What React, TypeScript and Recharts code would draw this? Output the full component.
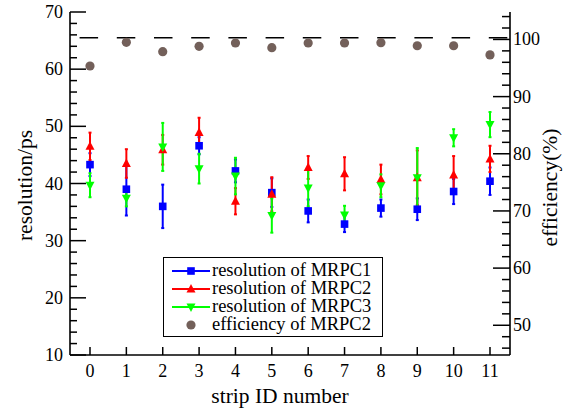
import { ComposedChart, ErrorBar, Legend, ReferenceLine, Scatter, XAxis, YAxis } from "recharts"

const STRIPS = [0, 1, 2, 3, 4, 5, 6, 7, 8, 9, 10, 11]
const RES_MRPC1 = [43.3, 39.0, 36.0, 46.6, 42.2, 38.4, 35.2, 32.9, 35.7, 35.5, 38.6, 40.4]
const ERR_MRPC1 = [2.0, 4.6, 3.8, 1.5, 2.0, 2.5, 2.0, 1.4, 1.5, 1.9, 2.2, 2.4]
const RES_MRPC2 = [46.5, 43.5, 45.9, 48.9, 36.9, 38.1, 42.8, 41.7, 40.7, 41.0, 41.5, 44.3]
const ERR_MRPC2 = [2.4, 2.5, 2.6, 2.6, 2.3, 3.0, 2.0, 2.9, 2.6, 4.8, 3.3, 2.3]
const RES_MRPC3 = [39.7, 37.4, 46.4, 42.6, 41.3, 34.4, 39.2, 34.5, 39.6, 41.0, 48.0, 50.3]
const ERR_MRPC3 = [2.1, 1.4, 4.2, 2.6, 3.2, 3.0, 3.2, 1.6, 2.0, 5.2, 1.5, 2.2]
const EFF_MRPC2 = [95.35, 99.5, 97.86, 98.8, 99.38, 98.56, 99.38, 99.38, 99.44, 98.9, 98.9, 97.3]

const LEFT_TICKS = [10, 12, 14, 16, 18, 20, 22, 24, 26, 28, 30, 32, 34, 36, 38, 40, 42, 44, 46, 48, 50, 52, 54, 56, 58, 60, 62, 64, 66, 68, 70]
const RIGHT_TICKS = [46, 48, 50, 52, 54, 56, 58, 60, 62, 64, 66, 68, 70, 72, 74, 76, 78, 80, 82, 84, 86, 88, 90, 92, 94, 96, 98, 100, 102, 104]
const LEGEND_LABELS = ["resolution of MRPC1", "resolution of MRPC2", "resolution of MRPC3", "efficiency of MRPC2"]

const BLUE = "#0000ff"
const RED = "#ff0000"
const GREEN = "#00ff00"
const BROWN = "#73605a"
const FONT = "Liberation Serif, serif"

const W = 573
const H = 410
const PLOT_L = 70
const PLOT_R = 510
const PLOT_T = 12
const PLOT_B = 355

const rows = STRIPS.map((s, i) => ({
    x: s,
    r1: RES_MRPC1[i],
    e1: ERR_MRPC1[i],
    r2: RES_MRPC2[i],
    e2: ERR_MRPC2[i],
    r3: RES_MRPC3[i],
    e3: ERR_MRPC3[i],
    eff: EFF_MRPC2[i],
}))

const Square = ({ cx, cy, fill = BLUE }: any) => <rect x={cx - 3.8} y={cy - 3.8} width={7.6} height={7.6} fill={fill} />
const TriUp = ({ cx, cy, fill = RED }: any) => (
    <path d={`M${cx},${cy - 5} L${cx + 4.5},${cy + 3.5} L${cx - 4.5},${cy + 3.5} Z`} fill={fill} />
)
const TriDown = ({ cx, cy, fill = GREEN }: any) => (
    <path d={`M${cx},${cy + 5} L${cx + 4.5},${cy - 3.5} L${cx - 4.5},${cy - 3.5} Z`} fill={fill} />
)
const Dot = ({ cx, cy, fill = BROWN }: any) => <circle cx={cx} cy={cy} r={4.6} fill={fill} />

const LeftTick = ({ y, payload }: any) => {
    const major = payload.value % 10 === 0
    return (
        <g>
            <line x1={PLOT_L} x2={PLOT_L + (major ? 16 : 7)} y1={y} y2={y} stroke="#000" strokeWidth={1.5} />
            {major && (
                <text x={PLOT_L - 7} y={y} textAnchor="end" dominantBaseline="central" fontSize={18} style={{ fontFamily: FONT }} fill="#000">
                    {payload.value}
                </text>
            )}
        </g>
    )
}

const RightTick = ({ y, payload }: any) => {
    const major = payload.value % 10 === 0
    return (
        <g>
            <line x1={PLOT_R} x2={PLOT_R - (major ? 17 : 8)} y1={y} y2={y} stroke="#000" strokeWidth={1.5} />
            {major && (
                <text x={PLOT_R + 3} y={y} textAnchor="start" dominantBaseline="central" fontSize={18} style={{ fontFamily: FONT }} fill="#000">
                    {payload.value}
                </text>
            )}
        </g>
    )
}

const BottomTick = ({ x, payload }: any) => (
    <g>
        <line x1={x} x2={x} y1={PLOT_B} y2={PLOT_B - 8} stroke="#000" strokeWidth={1.5} />
        <text x={x} y={PLOT_B + 16} textAnchor="middle" dominantBaseline="central" fontSize={18} style={{ fontFamily: FONT }} fill="#000">
            {payload.value}
        </text>
    </g>
)

const LEGEND_SHAPES = [
    { color: BLUE, Shape: Square, line: true },
    { color: RED, Shape: TriUp, line: true },
    { color: GREEN, Shape: TriDown, line: true },
    { color: BROWN, Shape: Dot, line: false },
]

const LegendBox = () => (
    <div
        style={{
            border: "1.5px solid #000",
            background: "#fff",
            width: 218,
            padding: "3px 0 3px 0",
            fontFamily: FONT,
            fontSize: 18.5,
            lineHeight: "18px",
        }}
    >
        {LEGEND_LABELS.map((label, i) => {
            const { color, Shape, line } = LEGEND_SHAPES[i]
            return (
                <div key={label} style={{ display: "flex", alignItems: "center", height: 18 }}>
                    <svg width={48} height={17} style={{ flex: "none" }}>
                        {line && <line x1={8} x2={46} y1={9} y2={9} stroke={color} strokeWidth={2} />}
                        <Shape cx={27} cy={9} fill={color} />
                    </svg>
                    <span style={{ whiteSpace: "nowrap", fontFamily: FONT }}>{label}</span>
                </div>
            )
        })}
    </div>
)

const labelStyle = { fontSize: 21.5, fill: "#000", fontFamily: FONT }

const App = () => (
    <div style={{ position: "absolute", left: 0, top: 0, width: W, height: H, background: "#fff", fontFamily: FONT }}>
        <ComposedChart width={W} height={H} data={rows} margin={{ top: PLOT_T, right: 0, left: 0, bottom: 0 }} style={{ fontFamily: FONT }}>
            <XAxis
                dataKey="x"
                type="number"
                domain={[-0.55, 11.55]}
                ticks={STRIPS}
                interval={0}
                height={H - PLOT_B}
                axisLine={{ stroke: "#000", strokeWidth: 1.6 }}
                tickLine={false}
                tick={<BottomTick />}
                label={{ value: "strip ID number", position: "insideBottom", offset: 7, dx: -10, style: labelStyle }}
            />
            <XAxis
                xAxisId="top"
                dataKey="x"
                type="number"
                orientation="top"
                domain={[-0.55, 11.55]}
                height={0}
                tick={false}
                tickLine={false}
                axisLine={{ stroke: "#000", strokeWidth: 1.6 }}
            />
            <YAxis
                yAxisId="l"
                type="number"
                domain={[10, 70]}
                ticks={LEFT_TICKS}
                interval={0}
                width={PLOT_L}
                allowDataOverflow
                axisLine={{ stroke: "#000", strokeWidth: 1.6 }}
                tickLine={false}
                tick={<LeftTick />}
                label={{ value: "resolution/ps", angle: -90, position: "center", dx: -11, dy: 2, style: labelStyle }}
            />
            <YAxis
                yAxisId="r"
                orientation="right"
                type="number"
                domain={[44.8, 104.8]}
                ticks={RIGHT_TICKS}
                interval={0}
                width={W - PLOT_R}
                allowDataOverflow
                axisLine={{ stroke: "#000", strokeWidth: 1.6 }}
                tickLine={false}
                tick={<RightTick />}
                label={{ value: "efficiency(%)", angle: -90, position: "center", dx: 8, dy: 4, style: labelStyle }}
            />
            <ReferenceLine
                yAxisId="r"
                y={100.3}
                stroke="#000"
                strokeWidth={1.6}
                strokeDasharray="18.5 18.7"
                strokeDashoffset={-2.7}
            />
            <Scatter yAxisId="l" dataKey="r1" shape={<Square />} isAnimationActive={false}>
                <ErrorBar dataKey="e1" direction="y" width={1.5} stroke={BLUE} strokeWidth={2} />
            </Scatter>
            <Scatter yAxisId="l" dataKey="r2" shape={<TriUp />} isAnimationActive={false}>
                <ErrorBar dataKey="e2" direction="y" width={1.5} stroke={RED} strokeWidth={2} />
            </Scatter>
            <Scatter yAxisId="l" dataKey="r3" shape={<TriDown />} isAnimationActive={false}>
                <ErrorBar dataKey="e3" direction="y" width={1.5} stroke={GREEN} strokeWidth={2} />
            </Scatter>
            <Scatter yAxisId="r" dataKey="eff" shape={<Dot />} isAnimationActive={false} />
            <Legend
                layout="vertical"
                align="center"
                verticalAlign="middle"
                content={<LegendBox />}
                wrapperStyle={{ left: 163, top: 257, width: 221 }}
            />
        </ComposedChart>
    </div>
)

export default App
